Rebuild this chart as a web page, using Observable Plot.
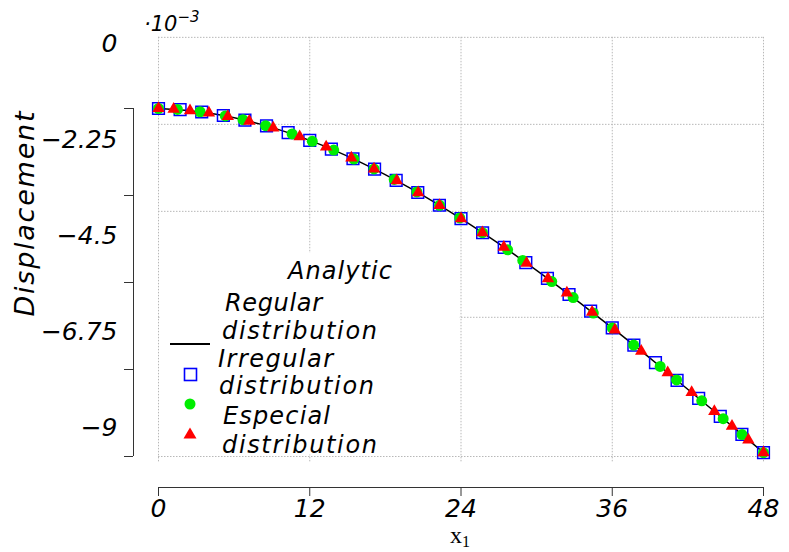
<!DOCTYPE html>
<html>
<head>
<meta charset="utf-8">
<script src="https://cdn.jsdelivr.net/npm/d3@7"></script>
<script src="https://cdn.jsdelivr.net/npm/@observablehq/plot@0.6"></script>
<style>
  html, body { margin: 0; padding: 0; background: #fff; }
  #wrap { position: relative; width: 789px; height: 552px; }
  #wrap > svg { position: absolute; left: 0; top: 0; }
  #overlay text { font-family: "DejaVu Sans", sans-serif; font-style: italic; fill: #000; }
</style>
</head>
<body>
<div id="wrap"></div>
<script>
// ---- data (displacement in units of 10^-3) ----
const xTicks = [0, 12, 24, 36, 48];
const yTicks = [0, -2.25, -4.5, -6.75, -9];
const yTickLabels = ["0", "\u22122.25", "\u22124.5", "\u22126.75", "\u22129"];
const gridY = [1.84, -0.41, -2.66, -5.4, -9];

// Analytic solution (black line)
const analyticX = [0, 4, 8, 12, 16, 20, 24, 28, 32, 36, 40, 44, 48];
const analyticY = [0, -0.117, -0.397, -0.825, -1.386, -2.066, -2.850, -3.722, -4.669, -5.675, -6.725, -7.805, -8.900];

// Regular distribution (blue squares)
const regX = [0, 1.714, 3.429, 5.143, 6.857, 8.571, 10.286, 12, 13.714, 15.429, 17.143, 18.857, 20.571, 22.286, 24,
  25.714, 27.429, 29.143, 30.857, 32.571, 34.286, 36, 37.714, 39.429, 41.143, 42.857, 44.571, 46.286, 48];
const regY = [0, -0.029, -0.090, -0.181, -0.301, -0.449, -0.624, -0.825, -1.050, -1.299, -1.569, -1.861, -2.172, -2.502, -2.850,
  -3.214, -3.593, -3.986, -4.392, -4.810, -5.238, -5.675, -6.121, -6.573, -7.031, -7.495, -7.961, -8.430, -8.900];

// Irregular distribution (green circles)
const irrX = [0, 1.5, 3.3, 5.3, 6.7, 8.5, 10.6, 12.2, 13.9, 15.5, 17.1, 18.7, 20.5, 22.3, 23.9,
  25.7, 27.7, 28.9, 31.2, 32.9, 34.5, 36, 37.7, 39.8, 41.1, 43.1, 44.8, 46.3, 48];
const irrY = [0, -0.024, -0.084, -0.191, -0.289, -0.443, -0.659, -0.850, -1.076, -1.309, -1.562, -1.833, -2.159, -2.505, -2.829,
  -3.211, -3.654, -3.930, -4.475, -4.891, -5.292, -5.675, -6.117, -6.672, -7.020, -7.560, -8.023, -8.434, -8.900];

// Especial distribution (red triangles)
const espX = [0, 1.2, 2.5, 4, 5.5, 7.2, 9.1, 11.2, 13.3, 15.3, 17.1, 18.9, 20.6, 22.3, 24,
  25.7, 27.4, 29.2, 30.9, 32.4, 34.4, 36.2, 38.3, 40.4, 42.3, 44.1, 45.5, 46.8, 48];
const espY = [0, -0.017, -0.053, -0.117, -0.204, -0.329, -0.501, -0.728, -0.994, -1.279, -1.562, -1.868, -2.178, -2.505, -2.850,
  -3.211, -3.587, -3.999, -4.402, -4.767, -5.267, -5.727, -6.274, -6.832, -7.344, -7.832, -8.215, -8.571, -8.900];

const zip = (xs, ys) => xs.map((x, i) => ({x, y: ys[i]}));
const analytic = zip(analyticX, analyticY);
const regular = zip(regX, regY);
const irregular = zip(irrX, irrY);
const especial = zip(espX, espY);

const gridStyle = {stroke: "#b8b8b8", strokeWidth: 1, strokeDasharray: "1.5,1.5"};

const chart = Plot.plot({
  width: 789,
  height: 552,
  marginTop: 108,
  marginBottom: 96,
  marginLeft: 158,
  marginRight: 26,
  x: {domain: [0, 48], label: null},
  y: {domain: [-9, 0], label: null},
  style: {fontFamily: "DejaVu Sans, sans-serif", fontStyle: "italic", background: "transparent", color: "#000", overflow: "visible"},
  marks: [
    Plot.ruleX(xTicks, {y1: gridY[0], y2: -9.15, ...gridStyle}),
    Plot.ruleY(gridY, {x1: 0, x2: 48, ...gridStyle}),
    // y axis (offset to the left of the frame)
    Plot.ruleX([0], {y1: 0, y2: -9, dx: -25, stroke: "#333"}),
    Plot.axisY(yTicks, {tickSize: 9, dx: -25, tickFormat: () => "", stroke: "#333", label: null}),
    Plot.text(yTicks, {
      y: (d) => 1.68 + d * 1.106,
      text: (d, i) => yTickLabels[i],
      frameAnchor: "left", textAnchor: "end", dx: -41, fontSize: 25
    }),
    // x axis (offset below the frame)
    Plot.ruleY([-9], {x1: 0, x2: 48, dy: 31, stroke: "#333"}),
    Plot.axisX(xTicks, {tickSize: 9, dy: 31, tickPadding: 3, fontSize: 25, stroke: "#333", label: null, tickFormat: (d) => String(d)}),
    // data
    Plot.line(analytic, {x: "x", y: "y", stroke: "#000", strokeWidth: 1.5, curve: "monotone-x"}),
    Plot.dot(regular, {x: "x", y: "y", symbol: "square", r: 6.6, stroke: "#0000ff", strokeWidth: 1.5, fill: "none"}),
    Plot.dot(irregular, {x: "x", y: "y", symbol: "circle", r: 5.5, fill: "#00ee00"}),
    Plot.dot(especial, {x: "x", y: "y", symbol: "triangle", r: 4.6, fill: "#ff0000"})
  ]
});

const wrap = document.getElementById("wrap");
wrap.appendChild(chart);

// overlay: legend, axis titles, exponent
const ns = "http://www.w3.org/2000/svg";
const ov = document.createElementNS(ns, "svg");
ov.setAttribute("id", "overlay");
ov.setAttribute("width", 789);
ov.setAttribute("height", 552);
ov.innerHTML = `
  <rect x="160" y="253" width="299.5" height="201.5" fill="#fff"/>
  <text x="288" y="279" font-size="24" textLength="104">Analytic</text>
  <text x="225" y="311" font-size="24" textLength="97">Regular</text>
  <text x="222" y="339" font-size="24" textLength="155">distribution</text>
  <text x="218" y="367" font-size="24" textLength="115">Irregular</text>
  <text x="219" y="394" font-size="24" textLength="155">distribution</text>
  <text x="223" y="424" font-size="24" textLength="107">Especial</text>
  <text x="222" y="453" font-size="24" textLength="155">distribution</text>
  <line x1="170" x2="210" y1="344" y2="344" stroke="#000" stroke-width="2"/>
  <rect x="184.5" y="368.5" width="12" height="12" fill="none" stroke="#0000ff" stroke-width="1.6"/>
  <circle cx="190" cy="404" r="5.5" fill="#00ee00"/>
  <polygon points="190,427.5 196.5,438.5 183.5,438.5" fill="#ff0000"/>
  <text x="144" y="31" font-size="21">\u00b710<tspan font-size="15" dy="-9">\u22123</tspan></text>
  <text transform="translate(34,214) rotate(-90)" text-anchor="middle" font-size="27" textLength="205">Displacement</text>
  <text x="460" y="543" text-anchor="middle" font-size="24" style="font-family:'Liberation Serif',serif;font-style:normal">x<tspan font-size="16" dy="4">1</tspan></text>
`;
wrap.appendChild(ov);
</script>
</body>
</html>
